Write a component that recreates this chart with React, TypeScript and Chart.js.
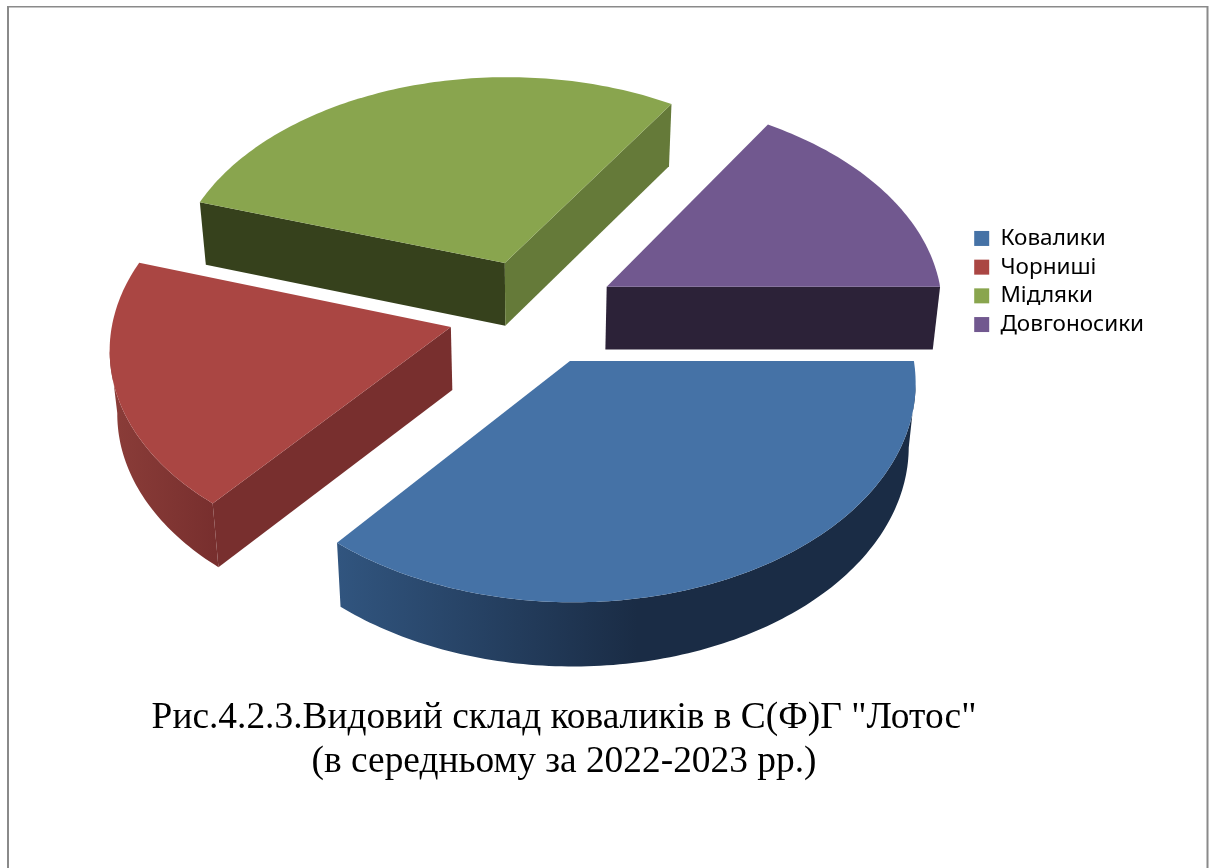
import React, { useEffect, useRef } from "react";
import { Chart, registerables } from "chart.js";

Chart.register(...registerables);

const categories = ["Ковалики", "Чорниші", "Мідляки", "Довгоносики"];
const shares = [36, 19, 29, 16];
const titleLines = ['Рис.4.2.3.Видовий склад коваликів в С(Ф)Г "Лотос"', "(в середньому за 2022-2023 рр.)"];

const topColors = ["#4572A6", "#AA4643", "#89A54E", "#71588F"];
const wallColors = ["#1A2C45", "#782F2E", "#36411C", "#2C2238"];
const rimLight = ["#31557F", "#8B3D39", "#5F7336", "#4E3D63"];
// The green slice's east wall catches more light than its west wall.
const eastWallGreen = "#657A39";

const SCENE = { cx: 533, cy: 312, depth: 63, tilt: 0.625, eye: 3800, baseScale: 0.982, baseTilt: 1.004 };
const DRAW_ORDER = [2, 3, 1, 0];

type Pt = { x: number; y: number };

function project(u: number, v: number, base: boolean): Pt {
  const s = SCENE.eye / (SCENE.eye - v);
  return {
    x: SCENE.cx + u * s * (base ? SCENE.baseScale : 1),
    y: SCENE.cy + SCENE.tilt * v * s * (base ? SCENE.baseTilt : 1) + (base ? SCENE.depth : 0),
  };
}

function fillShape(ctx: CanvasRenderingContext2D, pts: Pt[], fill: string | CanvasGradient) {
  ctx.beginPath();
  pts.forEach((p, i) => (i ? ctx.lineTo(p.x, p.y) : ctx.moveTo(p.x, p.y)));
  ctx.closePath();
  ctx.fillStyle = fill;
  ctx.fill();
}

// Renders each arc element as an exploded, tilted slab using the angles,
// radius and offset the doughnut controller computed for it.
const slabPlugin = {
  id: "slab",
  beforeDatasetDraw(chart: any, args: any) {
    const ctx: CanvasRenderingContext2D = chart.ctx;
    const arcs = chart.getDatasetMeta(args.index).data;
    ctx.save();
    for (const i of DRAW_ORDER) {
      const arc = arcs[i];
      const { startAngle, endAngle, outerRadius } = arc.getProps(["startAngle", "endAngle", "outerRadius"]);
      const offset = arc.options.offset;
      const mid = (startAngle + endAngle) / 2;
      const ax = Math.cos(mid) * offset;
      const ay = Math.sin(mid) * offset;
      const steps = Math.max(8, Math.round(((endAngle - startAngle) * 180) / Math.PI));
      const at = (t: number, base: boolean) => {
        const a = startAngle + (endAngle - startAngle) * t;
        return project(ax + Math.cos(a) * outerRadius, ay + Math.sin(a) * outerRadius, base);
      };
      const topRim: Pt[] = [];
      const baseRim: Pt[] = [];
      for (let k = 0; k <= steps; k++) {
        topRim.push(at(k / steps, false));
        baseRim.push(at(k / steps, true));
      }
      const apexTop = project(ax, ay, false);
      const apexBase = project(ax, ay, true);

      // Curved rim: only the part that travels right to left faces the viewer.
      const minX = Math.min(...topRim.map((p) => p.x));
      const grad = ctx.createLinearGradient(minX, 0, minX + (i === 0 ? 300 : 105), 0);
      grad.addColorStop(0, rimLight[i]);
      grad.addColorStop(1, wallColors[i]);
      const visTop: Pt[] = [];
      const visBase: Pt[] = [];
      for (let k = 0; k < steps; k++) {
        if (topRim[k + 1].x < topRim[k].x) {
          if (!visTop.length) {
            visTop.push(topRim[k]);
            visBase.push(baseRim[k]);
          }
          visTop.push(topRim[k + 1]);
          visBase.push(baseRim[k + 1]);
        }
      }
      if (visTop.length) fillShape(ctx, [...visTop, ...visBase.reverse()], grad);

      // Radial walls, culled the same way.
      if (topRim[0].x < apexTop.x) {
        fillShape(ctx, [apexTop, topRim[0], baseRim[0], apexBase], wallColors[i]);
      }
      if (apexTop.x < topRim[steps].x) {
        fillShape(
          ctx,
          [topRim[steps], apexTop, apexBase, baseRim[steps]],
          i === 2 ? eastWallGreen : wallColors[i],
        );
      }

      fillShape(ctx, [apexTop, ...topRim], topColors[i]);
    }
    ctx.restore();
    return false;
  },
};

// Places the legend and the caption where the composition needs them and
// draws the page-frame lines behind everything.
const framePlugin = {
  id: "frame",
  afterLayout(chart: any) {
    const legend = chart.legend;
    legend.left = 968;
    legend.right = 1200;
    legend.top = 221;
    legend.bottom = 345;
    const title = chart.titleBlock;
    title.left = 64;
    title.right = 1064;
    title.top = 696;
    title.bottom = 784;
  },
  beforeDraw(chart: any) {
    const ctx: CanvasRenderingContext2D = chart.ctx;
    ctx.save();
    ctx.fillStyle = "#ffffff";
    ctx.fillRect(0, 0, chart.width, chart.height);
    ctx.fillStyle = "#8a8a8a";
    ctx.fillRect(7, 6, 1200, 1.5);
    ctx.fillRect(7, 6, 2, chart.height - 6);
    ctx.fillRect(1206.5, 6, 2, chart.height - 6);
    ctx.restore();
  },
};

export default function App() {
  const ref = useRef<HTMLCanvasElement>(null);
  useEffect(() => {
    const chart = new Chart(ref.current!, {
      type: "pie",
      data: {
        labels: categories,
        datasets: [
          {
            data: shares,
            backgroundColor: topColors,
            borderWidth: 0,
            radius: 337,
            offset: 85,
            rotation: 90,
          } as any,
        ],
      },
      options: {
        animation: false,
        responsive: false,
        events: [],
        plugins: {
          tooltip: { enabled: false },
          legend: {
            position: "right",
            align: "start",
            labels: {
              boxWidth: 15,
              boxHeight: 15,
              padding: 6.2,
              color: "#000000",
              font: { family: "'Noto Sans'", size: 22.5, lineHeight: 1.08 },
            },
          },
          title: {
            display: true,
            position: "bottom",
            text: titleLines,
            color: "#000000",
            padding: 0,
            font: { family: "'Liberation Serif'", size: 37.4, weight: "normal", lineHeight: 1.176 },
          },
        },
      },
      plugins: [framePlugin, slabPlugin],
    } as any);
    return () => chart.destroy();
  }, []);
  return (
    <div style={{ position: "fixed", left: 0, top: 0, width: 1214, height: 868, background: "#fff" }}>
      <canvas ref={ref} width={1214} height={868} style={{ display: "block" }} />
    </div>
  );
}
